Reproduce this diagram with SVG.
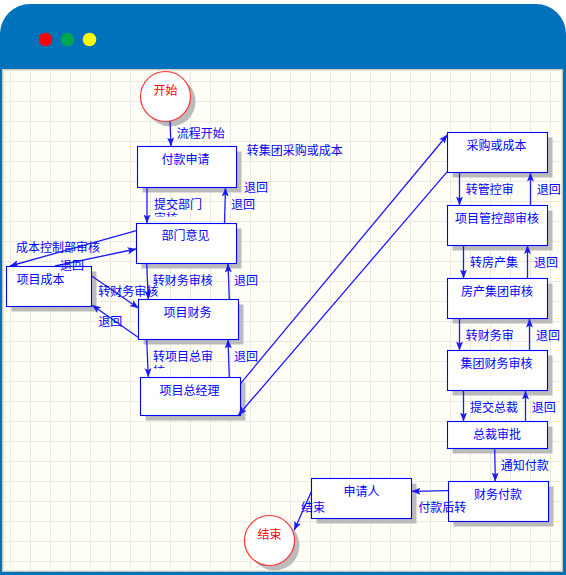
<svg xmlns="http://www.w3.org/2000/svg" width="566" height="575" viewBox="0 0 566 575">
<defs>
<pattern id="grid" x="0" y="0" width="20" height="20" patternUnits="userSpaceOnUse" patternTransform="translate(10 1)"><path d="M0.5 0V20M0 0.500H20" stroke="#e9e9df" stroke-width="1" fill="none"/></pattern>
<marker id="arr" markerWidth="10" markerHeight="8" refX="8.500" refY="3.500" orient="auto" markerUnits="userSpaceOnUse"><path d="M0 0L9 3.500L0 7L2 3.500Z" fill="#1a1aff"/></marker>
<clipPath id="c1"><rect x="150" y="195" width="70" height="21.500"/></clipPath>
<clipPath id="c2"><rect x="150" y="348" width="70" height="20.500"/></clipPath>
</defs>
<style>
.n{fill:#fff;stroke:#00f;stroke-width:1.1}
.s{fill:#bbb}
.t{font:12px "Noto Sans CJK SC","Liberation Sans",sans-serif;fill:#00f;text-anchor:middle}
.l{font:12px "Noto Sans CJK SC","Liberation Sans",sans-serif;fill:#00f}
.r{font:12px "Noto Sans CJK SC","Liberation Sans",sans-serif;fill:#f00;text-anchor:middle}
.c{fill:#fff;stroke:#f33;stroke-width:1.2}
#conn path{fill:none;stroke:#1a1aff;stroke-width:1.3;marker-end:url(#arr)}
</style>
<path d="M0 575V34A30 30 0 0 1 30 4H536A30 30 0 0 1 566 34V575Z" fill="#0071bb"/>
<rect x="2" y="69" width="561" height="503" fill="#fffff8"/>
<rect x="2" y="69" width="561" height="503" fill="url(#grid)"/>
<path d="M2 69.500H563M2.500 69V572M2 571.500H563M562.500 69V572" stroke="#c8c8bc" stroke-width="1" fill="none"/>
<path d="M3 70.500H562M3.500 70V571M3 570.500H562M561.500 70V571" stroke="#e6e6da" stroke-width="1" fill="none"/>
<g id="dots"><circle cx="45.500" cy="39.500" r="6.800" fill="#f00"/><circle cx="67.500" cy="39.500" r="6.800" fill="#00a651"/><circle cx="89.500" cy="39.500" r="6.800" fill="#ff0"/></g>
<g id="start"><circle cx="170.500" cy="101.500" r="25" class="s"/><circle cx="165.500" cy="96.500" r="25" class="c"/><text x="165.500" y="95" class="r">开始</text></g>
<g id="n1"><rect x="142.500" y="151.500" width="99" height="41" class="s"/><rect x="137.500" y="146.500" width="99" height="41" class="n"/><text x="185.500" y="164" class="t">付款申请</text></g>
<g id="n2"><rect x="141.500" y="228.500" width="100" height="40" class="s"/><rect x="136.500" y="223.500" width="100" height="40" class="n"/><text x="185.500" y="240" class="t">部门意见</text></g>
<g id="n3"><rect x="11.500" y="271.500" width="85" height="40" class="s"/><rect x="6.500" y="266.500" width="85" height="40" class="n"/><text x="40.500" y="284" class="t">项目成本</text></g>
<g id="n4"><rect x="143.500" y="304.500" width="100" height="40" class="s"/><rect x="138.500" y="299.500" width="100" height="40" class="n"/><text x="187.500" y="317" class="t">项目财务</text></g>
<g id="n5"><rect x="145.500" y="382.500" width="100" height="38" class="s"/><rect x="140.500" y="377.500" width="100" height="38" class="n"/><text x="189.500" y="395" class="t">项目总经理</text></g>
<g id="n6"><rect x="452.500" y="137.500" width="100" height="40" class="s"/><rect x="447.500" y="132.500" width="100" height="40" class="n"/><text x="496.500" y="150" class="t">采购或成本</text></g>
<g id="n7"><rect x="452.500" y="210.500" width="100" height="40" class="s"/><rect x="447.500" y="205.500" width="100" height="40" class="n"/><text x="497" y="223" class="t">项目管控部审核</text></g>
<g id="n8"><rect x="452.500" y="283.500" width="100" height="40" class="s"/><rect x="447.500" y="278.500" width="100" height="40" class="n"/><text x="497" y="296" class="t">房产集团审核</text></g>
<g id="n9"><rect x="452.500" y="355.500" width="100" height="40" class="s"/><rect x="447.500" y="350.500" width="100" height="40" class="n"/><text x="496.500" y="368" class="t">集团财务审核</text></g>
<g id="n10"><rect x="452.500" y="426.500" width="100" height="27" class="s"/><rect x="447.500" y="421.500" width="100" height="27" class="n"/><text x="497" y="439" class="t">总裁审批</text></g>
<g id="n11"><rect x="453.500" y="486.500" width="100" height="40" class="s"/><rect x="448.500" y="481.500" width="100" height="40" class="n"/><text x="498" y="499" class="t">财务付款</text></g>
<g id="n12"><rect x="316.500" y="483.500" width="100" height="40" class="s"/><rect x="311.500" y="478.500" width="100" height="40" class="n"/><text x="361.500" y="496" class="t">申请人</text></g>
<g id="end"><circle cx="274.500" cy="545.500" r="25" class="s"/><circle cx="269.500" cy="540.500" r="25" class="c"/><text x="269.500" y="539" class="r">结束</text></g>
<g id="conn">
<path d="M170 121L171 146"/>
<path d="M147 188V223"/>
<path d="M224.500 223L225.500 188"/>
<path d="M136.300 230.700L10 266"/>
<path d="M55 266L136 249"/>
<path d="M146.700 263.500L148.300 299"/>
<path d="M229.300 299.300L228 264"/>
<path d="M91.700 276L138.300 308"/>
<path d="M138 337.300L92.300 305.300"/>
<path d="M146.700 339.500L148.300 376.700"/>
<path d="M229.300 377.300L228 340"/>
<path d="M240.700 383.300L447.300 135"/>
<path d="M447.300 171.700L238.500 415"/>
<path d="M459.500 173V205"/>
<path d="M530.500 205V173"/>
<path d="M463.500 245.500V278"/>
<path d="M527.500 278V245.500"/>
<path d="M459.500 319V350"/>
<path d="M529.500 350V319"/>
<path d="M463.500 391V421"/>
<path d="M525.500 421V391"/>
<path d="M494.700 448.700L495.300 481"/>
<path d="M448.300 490.700L412 491.300"/>
<path d="M311.300 491.700L294.300 530"/>
</g>
<g id="labels">
<text x="176.700" y="138" class="l">流程开始</text>
<text x="246.700" y="155" class="l">转集团采购或成本</text>
<text x="244" y="192" class="l">退回</text>
<text x="231" y="209" class="l">退回</text>
<g clip-path="url(#c1)"><text x="154" y="209" class="l">提交部门</text><text x="154" y="223" class="l">审核</text></g>
<text x="16" y="252" class="l">成本控制部审核</text>
<text x="60" y="270" class="l">退回</text>
<text x="152.700" y="285" class="l">转财务审核</text>
<text x="234" y="285" class="l">退回</text>
<text x="98.300" y="296" class="l">转财务审核</text>
<text x="98.300" y="326" class="l">退回</text>
<g clip-path="url(#c2)"><text x="153" y="361" class="l">转项目总审</text><text x="153" y="376" class="l">核</text></g>
<text x="234" y="361" class="l">退回</text>
<text x="465.700" y="194" class="l">转管控审</text>
<text x="536.700" y="194" class="l">退回</text>
<text x="470" y="267" class="l">转房产集</text>
<text x="534" y="267" class="l">退回</text>
<text x="465.700" y="340" class="l">转财务审</text>
<text x="536" y="340" class="l">退回</text>
<text x="470" y="412" class="l">提交总裁</text>
<text x="531.700" y="412" class="l">退回</text>
<text x="500.700" y="470" class="l">通知付款</text>
<text x="418.300" y="512" class="l">付款后转</text>
<text x="301" y="512" class="l">结束</text>
</g>
</svg>
